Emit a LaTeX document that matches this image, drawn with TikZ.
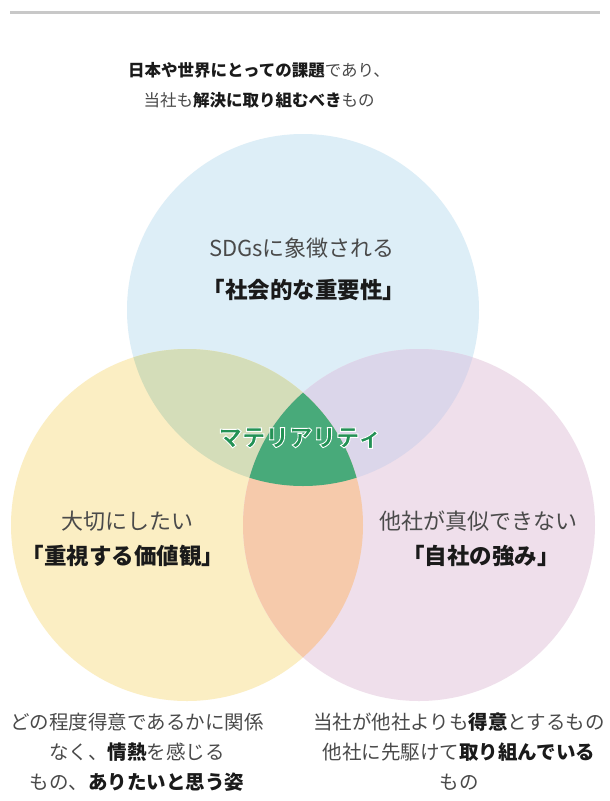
\documentclass[tikz,border=0pt]{standalone}
\usepackage{fontspec}
\setmainfont{Noto Sans CJK JP}
\usepackage{xcolor}
\usetikzlibrary{positioning,calc}

\definecolor{socialblue}{HTML}{DDEEF7}
\definecolor{valueyellow}{HTML}{FBEEC3}
\definecolor{strengthpink}{HTML}{EFDFEB}
\definecolor{blueyellow}{HTML}{D4DDB9}
\definecolor{bluepink}{HTML}{DBD6EA}
\definecolor{yellowpink}{HTML}{F6CAAB}
\definecolor{coregreen}{HTML}{48AA7A}
\definecolor{coretext}{HTML}{239155}
\definecolor{softtext}{HTML}{4A4A4A}
\definecolor{hardtext}{HTML}{1A1A1A}
\definecolor{rulegray}{HTML}{C8C8C8}

\newcommand{\bk}[1]{{\bfseries\color{hardtext}#1}}
% white rim round the letters (fill, then stroke)
\newcommand{\rimtext}[1]{\special{pdf:literal direct 1 1 1 RG 0.9 w 2 Tr}#1\special{pdf:literal direct 0 Tr}}

\begin{document}
\begin{tikzpicture}[
    x=1pt, y=-1pt,
    caption/.style={font=\fontsize{16.5}{18}\selectfont, text=softtext, inner sep=0pt},
    sub/.style={font=\fontsize{22}{24}\selectfont, text=softtext, inner sep=0pt},
    title/.style={font=\fontsize{22.5}{24}\selectfont\bfseries, text=hardtext, inner sep=0pt},
    note/.style={font=\fontsize{19.5}{21}\selectfont, text=softtext, inner sep=0pt}
]
    \useasboundingbox (0,0) rectangle (610,801);
    \fill[white] (0,0) rectangle (610,801);

    % Top rule
    \draw[rulegray, line width=3pt] (10,12) -- (600,12);

    % Circles
    \def\topcircle{(303,310) circle[radius=176pt]}
    \def\leftcircle{(187,525) circle[radius=176pt]}
    \def\rightcircle{(419,525) circle[radius=176pt]}

    \fill[socialblue] \topcircle;
    \fill[valueyellow] \leftcircle;
    \fill[strengthpink] \rightcircle;

    % Overlaps
    \begin{scope}
        \clip \topcircle;
        \fill[blueyellow] \leftcircle;
        \fill[bluepink] \rightcircle;
    \end{scope}
    \begin{scope}
        \clip \leftcircle;
        \fill[yellowpink] \rightcircle;
        \clip \rightcircle;
        \fill[coregreen] \topcircle;
    \end{scope}

    % Caption above
    \node[caption] (caption1) at (259,70) {\bk{日本や世界にとっての課題}であり、};
    \node[caption] (caption2) at (259,100) {当社も\bk{解決に取り組むべき}もの};

    % Social importance
    \node[sub] (socialsub) at (302,248) {SDGsに象徴される};
    \node[title] (socialtitle) at (304,290) {「社会的な重要性」};

    % Values
    \node[sub] (valuesub) at (127,521) {大切にしたい};
    \node[title] (valuetitle) at (123,556) {「重視する価値観」};

    % Strengths
    \node[sub] (strengthsub) at (478,521) {他社が真似できない};
    \node[title] (strengthtitle) at (481,556) {「自社の強み」};

    % Materiality
    \node[font=\fontsize{23.5}{25}\selectfont\bfseries, text=coretext, inner sep=0pt] (materiality) at (300,438) {\rimtext{マテリアリティ}};

    % Notes below
    \node[note] (valuenote1) at (137,722) {どの程度得意であるかに関係};
    \node[note] (valuenote2) at (137,752) {なく、\bk{情熱}を感じる};
    \node[note] (valuenote3) at (137,782) {もの、\bk{ありたいと思う姿}};

    \node[note] (strengthnote1) at (459,722) {当社が他社よりも\bk{得意}とするもの};
    \node[note] (strengthnote2) at (459,752) {他社に先駆けて\bk{取り組んでいる}};
    \node[note] (strengthnote3) at (459,782) {もの};
\end{tikzpicture}
\end{document}
